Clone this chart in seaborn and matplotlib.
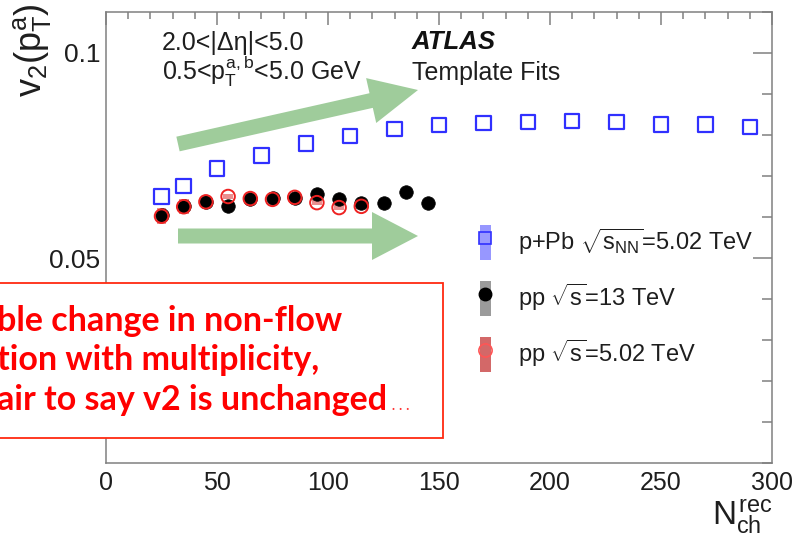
import numpy as np
import pandas as pd
import matplotlib
matplotlib.use("Agg")
import matplotlib.pyplot as plt
import seaborn as sns
from matplotlib.patches import Rectangle, FancyArrow
from matplotlib.lines import Line2D
from matplotlib.legend_handler import HandlerTuple
from matplotlib.ticker import MultipleLocator, FixedLocator, FixedFormatter
from matplotlib.transforms import IdentityTransform

# ---------------- data ----------------
ppb_n = [25, 35, 50, 70, 90, 110, 130, 150, 170, 190, 210, 230, 250, 270, 290]
ppb_v2 = [0.0650, 0.0676, 0.0718, 0.0750, 0.0779, 0.0798, 0.0815, 0.0824,
          0.0829, 0.0832, 0.0834, 0.0832, 0.0826, 0.0826, 0.0820]

pp13_n = [25, 35, 45, 55, 65, 75, 85, 95, 105, 115, 125, 135, 145]
pp13_v2 = [0.0606, 0.0626, 0.0636, 0.0626, 0.0645, 0.0646, 0.0646, 0.0657,
           0.0645, 0.0634, 0.0633, 0.0661, 0.0635]
pp13_sys = [0.0012, 0.0010, 0.0006, 0.0005, 0.0005, 0.0005, 0.0005, 0.0005,
            0.0005, 0.0005, 0.0005, 0.0005, 0.0005]

pp5_n = [25, 35, 45, 55, 65, 75, 85, 95, 105, 115]
pp5_v2 = [0.0602, 0.0625, 0.0637, 0.0650, 0.0645, 0.0643, 0.0648, 0.0635,
          0.0623, 0.0626]
pp5_sys = [0.0020, 0.0018, 0.0009, 0.0007, 0.0006, 0.0006, 0.0006, 0.0006,
           0.0006, 0.0006]

x_ticks = [0, 50, 100, 150, 200, 250, 300]
y_ticks = [0.05, 0.1]
y_tick_labels = ["0.05", "0.1"]
legend_labels = [r"p+Pb $\sqrt{s_\mathrm{NN}}$=5.02 TeV",
                 r"pp $\sqrt{s}$=13 TeV",
                 r"pp $\sqrt{s}$=5.02 TeV"]
box_lines = ["ble change in non-flow",
             "tion with multiplicity,",
             "air to say v2 is unchanged"]

# ---------------- style ----------------
sns.set_theme(style="white")
plt.rcParams["font.family"] = ["Liberation Sans", "DejaVu Sans"]
plt.rcParams["mathtext.fontset"] = "custom"
plt.rcParams["mathtext.rm"] = "Liberation Sans"
plt.rcParams["mathtext.it"] = "Liberation Sans"
plt.rcParams["mathtext.sf"] = "Liberation Sans"
plt.rcParams["mathtext.bf"] = "Liberation Sans:bold"

W, H = 796, 537
fig = plt.figure(figsize=(W / 100, H / 100), dpi=100)
ax = fig.add_axes([106 / W, 74 / H, 666 / W, 451 / H])

BLUE = "#3030ff"
RED = "#ee2222"
TXT = "#1e1e1e"

# systematic boxes
ax.bar(pp13_n, 2 * np.array(pp13_sys), bottom=np.array(pp13_v2) - np.array(pp13_sys),
       width=4.5, color="#777777", alpha=0.6, linewidth=0, zorder=1)
ax.bar(pp5_n, 2 * np.array(pp5_sys), bottom=np.array(pp5_v2) - np.array(pp5_sys),
       width=4.5, color="#dd4444", alpha=0.6, linewidth=0, zorder=1)

sns.scatterplot(x=ppb_n, y=ppb_v2, marker="s", s=110, facecolor="none",
                edgecolor=BLUE, linewidth=1.6, ax=ax, zorder=3)
sns.scatterplot(x=pp13_n, y=pp13_v2, marker="o", s=95, color="black",
                edgecolor="black", linewidth=0.5, ax=ax, zorder=3)
sns.scatterplot(x=pp5_n, y=pp5_v2, marker="o", s=95, facecolor="none",
                edgecolor=RED, linewidth=1.4, ax=ax, zorder=4)

ax.set_xlim(0, 300)
ax.set_ylim(0, 0.11)
ax.xaxis.set_major_locator(FixedLocator(x_ticks))
ax.xaxis.set_minor_locator(MultipleLocator(10))
ax.yaxis.set_major_locator(FixedLocator(y_ticks))
ax.yaxis.set_major_formatter(FixedFormatter(y_tick_labels))
ax.yaxis.set_minor_locator(MultipleLocator(0.01))

SPC = "#808080"
for s in ax.spines.values():
    s.set_color(SPC)
    s.set_linewidth(1.1)
ax.tick_params(which="both", direction="in", top=True, right=True,
               color=SPC, width=1.1, labelcolor=TXT)
ax.tick_params(axis="x", which="major", length=9, pad=6, labelsize=18)
ax.tick_params(axis="x", which="minor", length=5)
ax.tick_params(axis="y", which="major", length=14, pad=4, labelsize=19)
ax.tick_params(axis="y", which="minor", length=7)

ax.set_xlabel(r"$N_\mathrm{ch}^\mathrm{rec}$", fontsize=24, loc="right", color=TXT)
ax.xaxis.set_label_coords(1.0, -0.078)
ax.set_ylabel(r"$v_2(p_\mathrm{T}^\mathrm{a})$", fontsize=26, loc="top", color=TXT)
ax.yaxis.set_label_coords(-0.08, 1.02)

# annotations inside the axes
ax.text(0.084, 0.915, "2.0<|Δη|<5.0", transform=ax.transAxes, fontsize=18,
        color=TXT, va="baseline")
ax.text(0.084, 0.849, r"0.5<$p_\mathrm{T}^\mathrm{a,b}$<5.0 GeV", transform=ax.transAxes,
        fontsize=18, color=TXT, va="baseline")
ax.text(0.459, 0.917, "ATLAS", transform=ax.transAxes, fontsize=18.5,
        fontweight="bold", fontstyle="italic", color="#111111", va="baseline")
ax.text(0.459, 0.849, "Template Fits", transform=ax.transAxes, fontsize=18,
        color=TXT, va="baseline")

# legend
handles = [
    (Rectangle((0, 0), 1, 1, fc="#8585ff", ec="none", alpha=0.85),
     Line2D([], [], marker="s", ms=8.5, mfc="#9a9aff", mec=BLUE, mew=1.2, ls="none")),
    (Rectangle((0, 0), 1, 1, fc="#8a8a8a", ec="none", alpha=0.85),
     Line2D([], [], marker="o", ms=9, mfc="black", mec="black", ls="none")),
    (Rectangle((0, 0), 1, 1, fc="#cc4d4d", ec="none", alpha=0.85),
     Line2D([], [], marker="o", ms=9.5, mfc="none", mec="#ff5555", mew=1.2, ls="none")),
]
ax.legend(handles=handles, labels=legend_labels,
          handler_map={tuple: HandlerTuple(ndivide=1, pad=0)},
          frameon=False, fontsize=17, handlelength=0.45, handleheight=1.9,
          labelspacing=0.9, handletextpad=1.15, borderpad=0, borderaxespad=0,
          loc="upper left", bbox_to_anchor=(480 / W, 1 - 225 / H),
          bbox_transform=fig.transFigure, labelcolor=TXT)

# green arrows (overlay)
GREEN = "#9fcc9b"
fig.add_artist(FancyArrow(178, H - 144, 240, 54, width=15, head_width=46,
                          head_length=48, length_includes_head=True,
                          transform=IdentityTransform(), color=GREEN, lw=0, zorder=5))
fig.add_artist(FancyArrow(178, H - 236, 240, 0, width=15, head_width=48,
                          head_length=46, length_includes_head=True,
                          transform=IdentityTransform(), color=GREEN, lw=0, zorder=5))

# red comment box
fig.add_artist(Rectangle((-5, H - 438), 448, 155, transform=IdentityTransform(),
                         fc="white", ec="#ff2a10", lw=1.3, zorder=6))
baselines = [331, 370, 410]
txts = []
for line, yb in zip(box_lines, baselines):
    t = fig.text(-3, H - yb, line, transform=IdentityTransform(), fontsize=24.5,
                 fontweight="bold", color="#ff0000", family=["Lato", "DejaVu Sans"],
                 va="baseline", ha="left", zorder=7)
    txts.append(t)
fig.canvas.draw()
bb = txts[-1].get_window_extent(renderer=fig.canvas.get_renderer())
fig.text(bb.x1 + 2, H - baselines[-1], "…", transform=IdentityTransform(), fontsize=22,
         color="#ff3333", family=["Lato", "DejaVu Sans"], fontweight="light",
         va="baseline", ha="left", zorder=7)

fig.savefig("out.png", dpi=100)
